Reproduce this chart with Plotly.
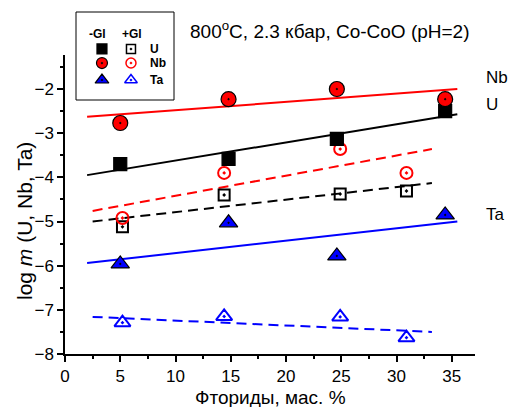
import plotly.graph_objects as go

# ---- data ----
x_u_f = [5.0, 14.8, 24.6, 34.4]
y_u_f = [-3.70, -3.58, -3.13, -2.50]
x_nb_f = [5.0, 14.8, 24.6, 34.4]
y_nb_f = [-2.77, -2.23, -2.00, -2.23]
x_ta_f = [5.0, 14.8, 24.6, 34.4]
y_ta_f = [-5.96, -5.03, -5.78, -4.85]

x_u_o = [5.2, 14.4, 24.9, 30.9]
y_u_o = [-5.12, -4.40, -4.38, -4.31]
x_nb_o = [5.2, 14.4, 24.9, 30.9]
y_nb_o = [-4.92, -3.90, -3.36, -3.90]
x_ta_o = [5.2, 14.4, 24.9, 30.9]
y_ta_o = [-7.29, -7.15, -7.16, -7.63]

# regression line endpoints
fit_x_solid = [2.0, 35.5]
fit_u_f = [-3.95, -2.57]
fit_nb_f = [-2.63, -2.00]
fit_ta_f = [-5.94, -5.00]
fit_x_dash = [2.5, 33.2]
fit_u_o = [-5.00, -4.13]
fit_nb_o = [-4.76, -3.36]
fit_ta_o = [-7.16, -7.50]

FONT = "Liberation Sans, Arial, sans-serif"
RED = "#ff0000"
BLUE = "#0000ff"
BLACK = "#000000"

fig = go.Figure()

def line(x, y, color, dash):
    fig.add_trace(go.Scatter(x=x, y=y, mode="lines", showlegend=False,
                             line=dict(color=color, width=2, dash=dash)))

line(fit_x_solid, fit_nb_f, RED, "solid")
line(fit_x_solid, fit_u_f, BLACK, "solid")
line(fit_x_solid, fit_ta_f, BLUE, "solid")
line(fit_x_dash, fit_nb_o, RED, "10px,6px")
line(fit_x_dash, fit_u_o, BLACK, "10px,6px")
line(fit_x_dash, fit_ta_o, BLUE, "10px,6px")

def pts(x, y, symbol, size, fill, lc, lw=1.2):
    fig.add_trace(go.Scatter(x=x, y=y, mode="markers", showlegend=False,
                             marker=dict(symbol=symbol, size=size, color=fill,
                                         line=dict(color=lc, width=lw))))

pts(x_u_o, y_u_o, "square-open-dot", 11, BLACK, BLACK, 2)
pts(x_nb_o, y_nb_o, "circle-open-dot", 12, RED, RED, 2)
pts(x_ta_o, y_ta_o, "triangle-up-open-dot", 14, BLUE, BLUE, 2)
pts(x_u_f, y_u_f, "square", 13, BLACK, BLACK)
pts(x_nb_f, y_nb_f, "circle-dot", 15, RED, BLACK)
pts(x_ta_f, y_ta_f, "triangle-up-dot", 16, BLUE, BLACK)

# ---- custom legend on overlay axes ----
leg_y = [0.58, 0.42, 0.227]
leg_names = ["U", "Nb", "Ta"]
leg_fx = 0.265
leg_ox = 0.561

def lpt(x, y, symbol, size, fill, lc, lw=1.2):
    fig.add_trace(go.Scatter(x=[x], y=[y], mode="markers", showlegend=False,
                             xaxis="x2", yaxis="y2",
                             marker=dict(symbol=symbol, size=size, color=fill,
                                         line=dict(color=lc, width=lw))))

lpt(leg_fx, leg_y[0], "square", 10, BLACK, BLACK)
lpt(leg_fx, leg_y[1], "circle-dot", 11, RED, BLACK)
lpt(leg_fx, leg_y[2], "triangle-up-dot", 12, BLUE, BLACK)
lpt(leg_ox, leg_y[0], "square-open-dot", 9, BLACK, BLACK, 1.5)
lpt(leg_ox, leg_y[1], "circle-open-dot", 10, RED, RED, 1.5)
lpt(leg_ox, leg_y[2], "triangle-up-open-dot", 11, BLUE, BLUE, 1.5)

# page body has an 8px margin: figure sized so the page fits the window exactly
OFF = 8
W, H = 500, 399
ml = 65 - OFF
mr = W - (475 - OFF)
mt = 2
mb = H - (354 - OFF)
ph = H - mt - mb
pw = W - ml - mr

def px_x(p):
    return (p - OFF - ml) / pw

def px_y(p):
    return (H - mb - (p - OFF)) / ph

main_top = px_y(55)
leg_bot = px_y(100)
leg_top = px_y(12)
leg_l = px_x(76)
leg_r = px_x(174)

annotations = []
hdr_font = dict(size=12, family=FONT, color=BLACK)
annotations.append(dict(x=0.224, y=0.75, xref="x2", yref="y2", text="<b>-Gl</b>",
                        xanchor="center", yanchor="middle", showarrow=False, font=hdr_font))
annotations.append(dict(x=0.571, y=0.75, xref="x2", yref="y2", text="<b>+Gl</b>",
                        xanchor="center", yanchor="middle", showarrow=False, font=hdr_font))
for yy, nm in zip(leg_y, leg_names):
    annotations.append(dict(x=0.735, y=yy, xref="x2", yref="y2", text="<b>%s</b>" % nm,
                            xanchor="left", yanchor="middle", showarrow=False, font=hdr_font))

annotations.append(dict(x=px_x(472), y=px_y(30), xref="paper", yref="paper",
                        text="800<sup>o</sup>C, 2.3 кбар, Co-CoO (pH=2)",
                        xanchor="right", yanchor="middle",
                        showarrow=False, font=dict(size=19, family=FONT, color=BLACK)))

side_labels = ["Nb", "U", "Ta"]
side_y = [-1.73, -2.34, -4.85]
for nm, yy in zip(side_labels, side_y):
    annotations.append(dict(x=px_x(484), y=yy, xref="paper", yref="y", text=nm,
                            xanchor="left", yanchor="middle", showarrow=False,
                            font=dict(size=17, family=FONT, color=BLACK)))

# axis titles
annotations.append(dict(x=px_x(270), y=px_y(397), xref="paper", yref="paper",
                        text="Фториды, мас. %", showarrow=False,
                        xanchor="center", yanchor="middle",
                        font=dict(size=19, family=FONT, color=BLACK)))
annotations.append(dict(x=px_x(24), y=px_y(221), xref="paper", yref="paper",
                        text="log <i>m</i> (U, Nb, Ta)", textangle=-90, showarrow=False,
                        xanchor="center", yanchor="middle",
                        font=dict(size=21, family=FONT, color=BLACK)))

fig.update_layout(
    width=W, height=H,
    margin=dict(l=ml, r=mr, t=mt, b=mb, autoexpand=False),
    paper_bgcolor="white", plot_bgcolor="white",
    font=dict(family=FONT, color=BLACK, size=17),
    showlegend=False,
    xaxis=dict(range=[0, 37.1], domain=[0, 1], showgrid=False, zeroline=False,
               showline=True, linecolor=BLACK, linewidth=1.5, automargin=False,
               ticks="outside", ticklen=6, tickwidth=1.5, tickcolor=BLACK,
               tick0=0, dtick=5, tickfont=dict(size=17),
               minor=dict(ticks="outside", ticklen=3, tickwidth=1.5, tickcolor=BLACK, dtick=2.5)),
    yaxis=dict(range=[-8, -1.23], domain=[0, main_top], showgrid=False, zeroline=False,
               showline=True, linecolor=BLACK, linewidth=1.5, automargin=False,
               ticks="outside", ticklen=6, tickwidth=1.5, tickcolor=BLACK,
               tick0=-8, dtick=1, tickfont=dict(size=17),
               minor=dict(ticks="outside", ticklen=3, tickwidth=1.5, tickcolor=BLACK, dtick=0.5)),
    xaxis2=dict(domain=[leg_l, leg_r], range=[0, 1], anchor="y2", visible=False, fixedrange=True),
    yaxis2=dict(domain=[leg_bot, leg_top], range=[0, 1], anchor="x2", visible=False, fixedrange=True),
    annotations=annotations,
    shapes=[dict(type="rect", xref="paper", yref="paper", x0=leg_l, x1=leg_r,
                 y0=leg_bot, y1=leg_top, line=dict(color=BLACK, width=1), fillcolor="rgba(0,0,0,0)")],
)

fig.write_html("out.html")
